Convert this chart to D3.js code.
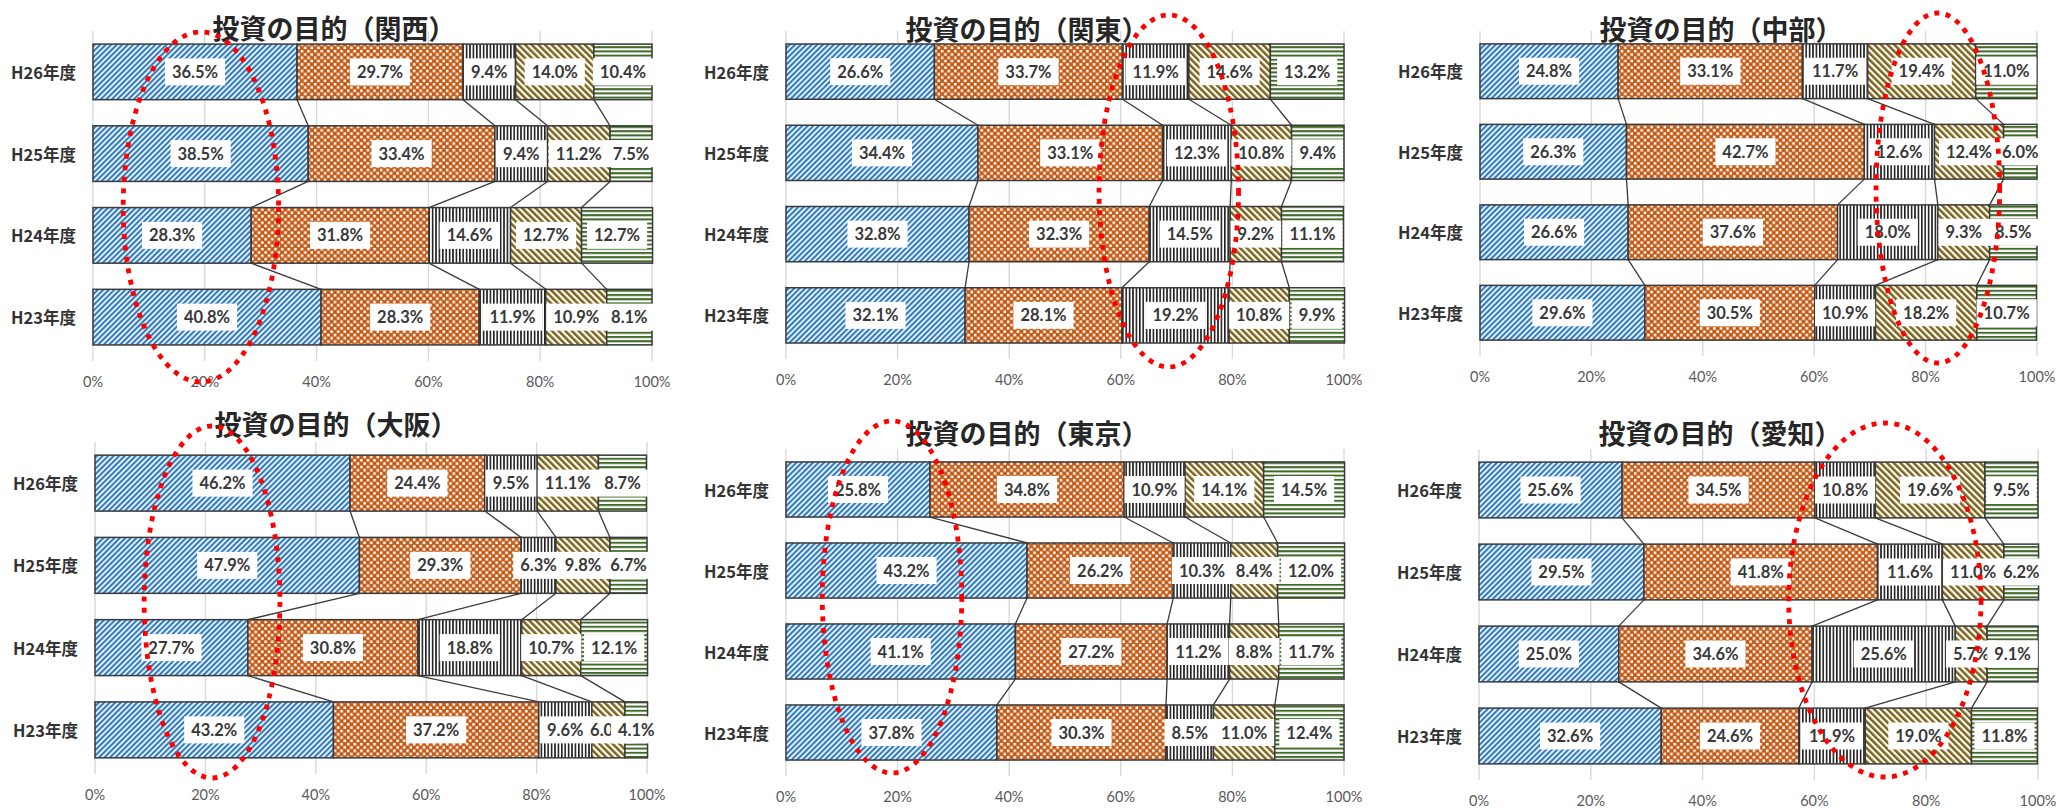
<!DOCTYPE html>
<html>
<head>
<meta charset="utf-8">
<script src="https://cdn.jsdelivr.net/npm/d3@7"></script>
<style>
  body { margin: 0; background: #fff; }
  svg { display: block; }
</style>
</head>
<body>
<svg id="chart" width="2059" height="808"></svg>
<script>
// ---- data ----------------------------------------------------------
const years = ["H26年度", "H25年度", "H24年度", "H23年度"];
const purposeKeys = ["p1", "p2", "p3", "p4", "p5"];
const titlePrefix = "投資の目的";
const regions = ["関西", "関東", "中部", "大阪", "東京", "愛知"];

// shares (%) per year row, purposes p1..p5
const kansai = [[36.5, 29.7, 9.4, 14.0, 10.4], [38.5, 33.4, 9.4, 11.2, 7.5], [28.3, 31.8, 14.6, 12.7, 12.7], [40.8, 28.3, 11.9, 10.9, 8.1]];
const kanto  = [[26.6, 33.7, 11.9, 14.6, 13.2], [34.4, 33.1, 12.3, 10.8, 9.4], [32.8, 32.3, 14.5, 9.2, 11.1], [32.1, 28.1, 19.2, 10.8, 9.9]];
const chubu  = [[24.8, 33.1, 11.7, 19.4, 11.0], [26.3, 42.7, 12.6, 12.4, 6.0], [26.6, 37.6, 18.0, 9.3, 8.5], [29.6, 30.5, 10.9, 18.2, 10.7]];
const osaka  = [[46.2, 24.4, 9.5, 11.1, 8.7], [47.9, 29.3, 6.3, 9.8, 6.7], [27.7, 30.8, 18.8, 10.7, 12.1], [43.2, 37.2, 9.6, 6.0, 4.1]];
const tokyo  = [[25.8, 34.8, 10.9, 14.1, 14.5], [43.2, 26.2, 10.3, 8.4, 12.0], [41.1, 27.2, 11.2, 8.8, 11.7], [37.8, 30.3, 8.5, 11.0, 12.4]];
const aichi  = [[25.6, 34.5, 10.8, 19.6, 9.5], [29.5, 41.8, 11.6, 11.0, 6.2], [25.0, 34.6, 25.6, 5.7, 9.1], [32.6, 24.6, 11.9, 19.0, 11.8]];
const seriesByRegion = [kansai, kanto, chubu, osaka, tokyo, aichi];

const tickValues = [0, 20, 40, 60, 80, 100];
const tickLabels = ["0%", "20%", "40%", "60%", "80%", "100%"];

// ---- layout --------------------------------------------------------
const panels = [
  { x0: 93,   x1: 652,  r0: 31,  r1: 358, titleY: 27,  ring: { cx: 19.3, rx: 13.9, cy: 207, ry: 175 } },
  { x0: 786,  x1: 1344, r0: 31,  r1: 356, titleY: 28,  ring: { cx: 68.6, rx: 12.5, cy: 191, ry: 176 } },
  { x0: 1480, x1: 2037, r0: 31,  r1: 353, titleY: 28,  ring: { cx: 82.2, rx: 11.1, cy: 188, ry: 175 } },
  { x0: 95,   x1: 647,  r0: 442, r1: 771, titleY: 423, ring: { cx: 21.2, rx: 12.3, cy: 602, ry: 176 } },
  { x0: 786,  x1: 1344, r0: 449, r1: 773, titleY: 432, ring: { cx: 19.0, rx: 12.5, cy: 597, ry: 176 } },
  { x0: 1479, x1: 2038, r0: 449, r1: 777, titleY: 432, ring: { cx: 72.6, rx: 17.2, cy: 600, ry: 177 } }
];

const svg = d3.select("#chart");
const defs = svg.append("defs");

// ---- fill patterns -------------------------------------------------
function stripePattern(id, size, band, color, angle) {
  const p = defs.append("pattern").attr("id", id)
    .attr("patternUnits", "userSpaceOnUse")
    .attr("width", size).attr("height", size)
    .attr("patternTransform", `rotate(${angle})`);
  p.append("rect").attr("width", size).attr("height", size).attr("fill", "#fff");
  p.append("rect").attr("width", band).attr("height", size).attr("fill", color);
}
stripePattern("fill-p1", 3.9, 2.2, "#2f7cc4", 45);
stripePattern("fill-p4", 4.7, 2.5, "#7d6217", -45);

const checker = defs.append("pattern").attr("id", "fill-p2")
  .attr("patternUnits", "userSpaceOnUse").attr("width", 6.6).attr("height", 6.6);
checker.append("rect").attr("width", 6.6).attr("height", 6.6).attr("fill", "#c55812");
checker.append("rect").attr("x", 0.35).attr("y", 0.35).attr("width", 2.6).attr("height", 2.6).attr("fill", "#fff");
checker.append("rect").attr("x", 3.65).attr("y", 3.65).attr("width", 2.6).attr("height", 2.6).attr("fill", "#fff");

const vert = defs.append("pattern").attr("id", "fill-p3")
  .attr("patternUnits", "userSpaceOnUse").attr("width", 3.4).attr("height", 10);
vert.append("rect").attr("width", 3.4).attr("height", 10).attr("fill", "#fff");
vert.append("rect").attr("width", 1.6).attr("height", 10).attr("fill", "#1e1e1e");

const horiz = defs.append("pattern").attr("id", "fill-p5")
  .attr("patternUnits", "userSpaceOnUse").attr("width", 10).attr("height", 4.2);
horiz.append("rect").attr("width", 10).attr("height", 4.2).attr("fill", "#fff");
horiz.append("rect").attr("width", 10).attr("height", 2.0).attr("fill", "#3f6a28");

const labelFont = "Lato, 'Liberation Sans', sans-serif";
const cjkFont = "'Noto Sans CJK JP', 'Noto Sans', sans-serif";

// ---- panels --------------------------------------------------------
panels.forEach((p, i) => {
  const rows = seriesByRegion[i];
  const table = years.map((yr, j) => {
    const o = { year: yr };
    purposeKeys.forEach((k, n) => { o[k] = rows[j][n]; });
    return o;
  });
  const stacked = d3.stack().keys(purposeKeys)(table);

  const x = d3.scaleLinear().domain([0, 100]).range([p.x0, p.x1]);
  const y = d3.scaleBand().domain(years).range([p.r0, p.r1]).paddingInner(0.32).paddingOuter(0.16);
  const bw = y.bandwidth();

  const g = svg.append("g");

  // vertical gridlines
  g.append("g").selectAll("line").data(tickValues).join("line")
    .attr("x1", d => x(d)).attr("x2", d => x(d))
    .attr("y1", p.r0).attr("y2", p.r1 + 3)
    .attr("stroke", "#d9d9d9").attr("stroke-width", 1.4);

  // series connectors between consecutive bars
  const links = [];
  stacked.slice(0, purposeKeys.length - 1).forEach(layer => {
    for (let j = 0; j < years.length - 1; j++) {
      links.push({ a: layer[j][1], b: layer[j + 1][1], ya: years[j], yb: years[j + 1] });
    }
  });
  g.append("g").selectAll("line").data(links).join("line")
    .attr("x1", d => x(d.a)).attr("y1", d => y(d.ya) + bw)
    .attr("x2", d => x(d.b)).attr("y2", d => y(d.yb))
    .attr("stroke", "#3a3a3a").attr("stroke-width", 1.3);

  // stacked segments
  g.append("g").selectAll("g").data(stacked).join("g")
    .attr("fill", d => `url(#fill-${d.key})`)
    .selectAll("rect").data(d => d).join("rect")
    .attr("x", d => x(d[0]))
    .attr("y", d => y(d.data.year))
    .attr("width", d => x(d[1]) - x(d[0]))
    .attr("height", bw)
    .attr("stroke", "#3a3a3a").attr("stroke-width", 1.5);

  // value labels, drawn left to right within each bar
  const labelLayer = g.append("g");
  years.forEach((yr, j) => {
    stacked.forEach(layer => {
      const d = layer[j];
      const cx = x((d[0] + d[1]) / 2);
      const cy = y(yr) + bw / 2;
      const lg = labelLayer.append("g");
      const box = lg.append("rect").attr("fill", "#fff");
      const t = lg.append("text")
        .attr("x", cx).attr("y", cy)
        .attr("text-anchor", "middle").attr("dominant-baseline", "central")
        .attr("font-family", labelFont).attr("font-weight", 700)
        .attr("font-size", 16.5).attr("fill", "#383838")
        .text(`${d.data[layer.key].toFixed(1)}%`);
      const w = t.node().getComputedTextLength() + 14;
      box.attr("x", cx - w / 2).attr("y", cy - 13.5).attr("width", w).attr("height", 27);
    });
  });

  // category labels
  g.append("g").selectAll("text").data(years).join("text")
    .attr("x", p.x0 - 17).attr("y", d => y(d) + bw / 2)
    .attr("text-anchor", "end").attr("dominant-baseline", "central")
    .attr("font-family", cjkFont).attr("font-weight", 700)
    .attr("font-size", 16.5).attr("fill", "#333")
    .text(d => d);

  // percentage axis labels
  g.append("g").selectAll("text").data(tickValues).join("text")
    .attr("x", d => x(d)).attr("y", p.r1 + 23)
    .attr("text-anchor", "middle").attr("dominant-baseline", "central")
    .attr("font-family", labelFont).attr("font-size", 14.5).attr("fill", "#595959")
    .text((d, n) => tickLabels[n]);

  // panel title
  g.append("text")
    .attr("x", p.x0 + 241).attr("y", p.titleY)
    .attr("text-anchor", "middle").attr("dominant-baseline", "central")
    .attr("font-family", cjkFont).attr("font-weight", 700)
    .attr("font-size", 27).attr("fill", "#262626")
    .text(`${titlePrefix}（${regions[i]}）`);

  // red dotted highlight ring
  g.append("ellipse")
    .attr("cx", x(p.ring.cx)).attr("cy", p.ring.cy)
    .attr("rx", x(p.ring.rx) - x(0)).attr("ry", p.ring.ry)
    .attr("fill", "none").attr("stroke", "#ff0000")
    .attr("stroke-width", 4.8).attr("stroke-dasharray", "5 6.5");
});
</script>
</body>
</html>
